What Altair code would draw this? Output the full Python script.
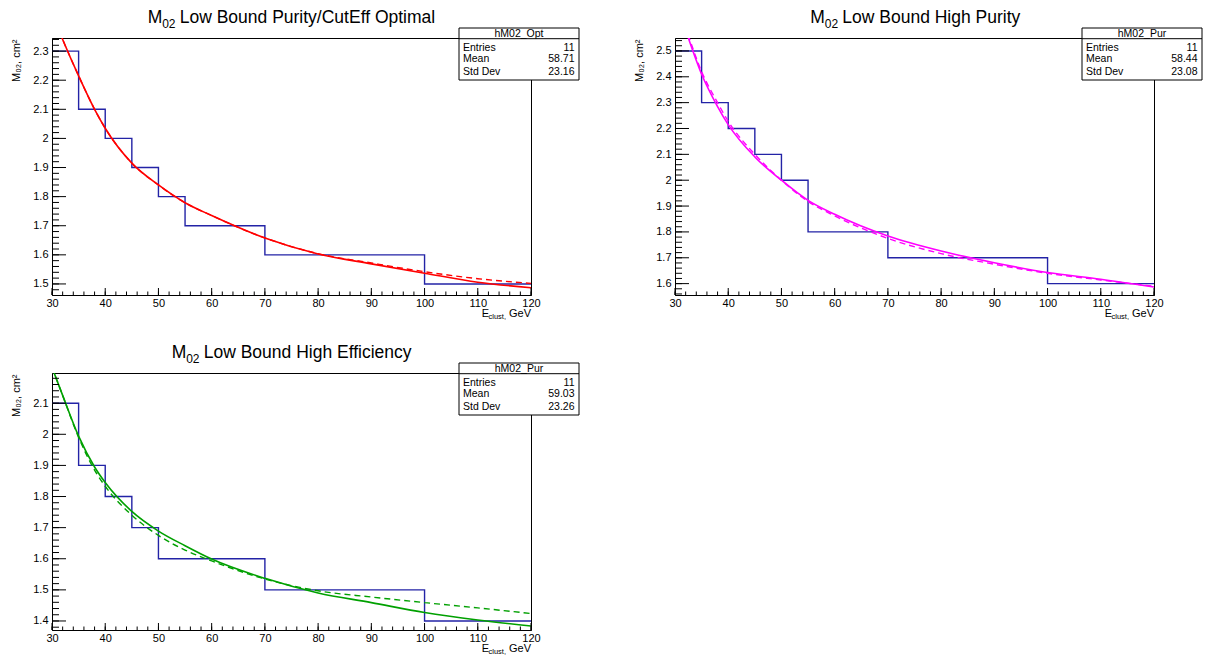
import altair as alt
import pandas as pd
import numpy as np

F = "Liberation Sans"
W, H = 479, 257

# ---------------- data ----------------
x_edges_a = [30, 35, 40, 45, 50, 55, 70, 100, 120]
x_edges_c = [30, 35, 40, 45, 50, 70, 100, 120]
hist_opt = [2.3, 2.1, 2.0, 1.9, 1.8, 1.7, 1.6, 1.5]
hist_pur = [2.5, 2.3, 2.2, 2.1, 2.0, 1.8, 1.7, 1.6]
hist_eff = [2.1, 1.9, 1.8, 1.7, 1.6, 1.5, 1.4]

fit_x = [30, 32, 35, 38, 40, 45, 50, 55, 60, 70, 80, 90, 100, 110, 120]
opt_solid = [2.43, 2.34, 2.215, 2.10, 2.035, 1.915, 1.84, 1.779, 1.735, 1.658, 1.603, 1.569, 1.537, 1.506, 1.487]
opt_dash = [2.43, 2.34, 2.215, 2.10, 2.035, 1.915, 1.84, 1.779, 1.735, 1.658, 1.604, 1.572, 1.542, 1.518, 1.502]
pur_solid = [2.70, 2.58, 2.41, 2.285, 2.215, 2.09, 2.0, 1.922, 1.868, 1.784, 1.726, 1.681, 1.643, 1.617, 1.587]
pur_dash = [2.71, 2.59, 2.42, 2.30, 2.228, 2.10, 2.0, 1.918, 1.862, 1.775, 1.716, 1.675, 1.640, 1.614, 1.590]
eff_solid = [2.215, 2.125, 1.994, 1.895, 1.845, 1.752, 1.689, 1.642, 1.599, 1.537, 1.490, 1.459, 1.427, 1.403, 1.384]
eff_dash = [2.215, 2.125, 1.99, 1.885, 1.833, 1.74, 1.675, 1.628, 1.593, 1.535, 1.497, 1.477, 1.459, 1.442, 1.424]

x_major = [30, 40, 50, 60, 70, 80, 90, 100, 110, 120]

one = pd.DataFrame({"k": [0]})
HIST_COLOR = "#2323a6"


def txt(s, x, y, size=10, align="left", baseline="middle"):
    return alt.Chart(one).mark_text(
        text=s, fontSize=size, font=F, align=align, baseline=baseline, color="black"
    ).encode(x=alt.value(x), y=alt.value(y))


def panel(title, t0, edges, hvals, solid, dashed, ydom, ymajor, color, name, stats, anchor=False):
    xs = alt.Scale(domain=[30, 120], nice=False, zero=False)
    ys = alt.Scale(domain=ydom, nice=False, zero=False)
    xaxis = alt.Axis(values=x_major, format="d", ticks=False, grid=False, title=None,
                     labelFont=F, labelFontSize=11, labelPadding=2, labelColor="black",
                     domainColor="black", labelFlush=False)
    yaxis = alt.Axis(values=ymajor, format=".1~f", ticks=False, grid=False,
                     title="M₀₂, cm²", titleFont=F, titleFontSize=11, titleFontWeight="normal",
                     titleAngle=270, titleX=-36, titleY=1, titleAlign="right",
                     titleBaseline="middle", titleColor="black",
                     labelFont=F, labelFontSize=11, labelPadding=4, labelColor="black",
                     domainColor="black")
    X = alt.X("x:Q", scale=xs, axis=xaxis)
    Y = alt.Y("y:Q", scale=ys, axis=yaxis)

    dh = pd.DataFrame({"x": edges, "y": hvals + [hvals[-1]]})
    ds = pd.DataFrame({"x": fit_x, "y": solid})
    dd = pd.DataFrame({"x": fit_x, "y": dashed})

    ymin_t = [v for v in np.round(np.arange(1.30, 2.80, 0.02), 2) if ydom[0] <= v <= ydom[1]]
    dymaj = pd.DataFrame({"y": ymajor})
    dymin = pd.DataFrame({"y": ymin_t})
    dxmaj = pd.DataFrame({"x": x_major})
    dxmin = pd.DataFrame({"x": list(range(30, 121, 2))})

    layers = []
    if anchor:
        layers.append(alt.Chart(one).mark_rect(color="white").encode(
            x=alt.value(-43), x2=alt.value(-42), y=alt.value(-29), y2=alt.value(-28)))
    layers += [
        alt.Chart(dh).mark_line(interpolate="step-after", color=HIST_COLOR, strokeWidth=1.4, clip=True).encode(x=X, y=Y),
        alt.Chart(dd).mark_line(interpolate="monotone", color=color, strokeWidth=1.4, strokeDash=[6, 4], clip=True).encode(x=X, y=Y),
        alt.Chart(ds).mark_line(interpolate="monotone", color=color, strokeWidth=1.6, clip=True).encode(x=X, y=Y),
        alt.Chart(dymaj).mark_rule(color="black", strokeWidth=1).encode(y=Y, x=alt.value(0), x2=alt.value(14)),
        alt.Chart(dymin).mark_rule(color="black", strokeWidth=1).encode(y=Y, x=alt.value(0), x2=alt.value(7)),
        alt.Chart(dxmaj).mark_rule(color="black", strokeWidth=1).encode(x=X, y=alt.value(H), y2=alt.value(H - 7)),
        alt.Chart(dxmin).mark_rule(color="black", strokeWidth=1).encode(x=X, y=alt.value(H), y2=alt.value(H - 3.5)),
        # title  M_02 ...
        txt("M", t0, -15, size=17.5, baseline="alphabetic"),
        txt("02", t0 + 14.5, -10, size=12, baseline="alphabetic"),
        txt(title, t0 + 32, -15, size=17.5, baseline="alphabetic"),
        # x axis title  E_clust, GeV
        txt("GeV", W, H + 19, size=11, align="right"),
        txt("clust,", W - 25, H + 22, size=7.5, align="right"),
        txt("E", W - 42, H + 19, size=11, align="right"),
        # stats box
        alt.Chart(one).mark_rect(fill="white", stroke="black", strokeWidth=1).encode(
            x=alt.value(407), x2=alt.value(527), y=alt.value(-10), y2=alt.value(42)),
        alt.Chart(one).mark_rule(color="black", strokeWidth=1).encode(
            x=alt.value(407), x2=alt.value(527), y=alt.value(0.7)),
        txt(name, 467, -4, size=10.5, align="center"),
        txt("Entries", 411, 9.5, size=10.5),
        txt("Mean", 411, 21, size=10.5),
        txt("Std Dev", 411, 33.5, size=10.5),
        txt(stats[0], 522.5, 10, size=10.5, align="right"),
        txt(stats[1], 522.5, 21, size=10.5, align="right"),
        txt(stats[2], 522.5, 33.5, size=10.5, align="right"),
    ]
    return alt.layer(*layers).properties(width=W, height=H)


p1 = panel("Low Bound Purity/CutEff Optimal", 95.7, x_edges_a, hist_opt, opt_solid, opt_dash,
           [1.462, 2.345], [1.5, 1.6, 1.7, 1.8, 1.9, 2.0, 2.1, 2.2, 2.3], "#ff0000",
           "hM02_Opt", ["11", "58.71", "23.16"], anchor=True)
p2 = panel("Low Bound High Purity", 135.3, x_edges_a, hist_pur, pur_solid, pur_dash,
           [1.556, 2.55], [1.6, 1.7, 1.8, 1.9, 2.0, 2.1, 2.2, 2.3, 2.4, 2.5], "#ff00ff",
           "hM02_Pur", ["11", "58.44", "23.08"])
p3 = panel("Low Bound High Efficiency", 119.7, x_edges_c, hist_eff, eff_solid, eff_dash,
           [1.371, 2.197], [1.4, 1.5, 1.6, 1.7, 1.8, 1.9, 2.0, 2.1], "#00a000",
           "hM02_Pur", ["11", "59.03", "23.26"])

chart = alt.concat(p1, p2, p3, columns=2, spacing={"row": 78, "column": 144}, bounds="flush").properties(
    padding=0, background="white"
).configure_view(stroke="black", strokeWidth=1)

chart.save("out.html", embed_options={"renderer": "svg", "actions": False})
